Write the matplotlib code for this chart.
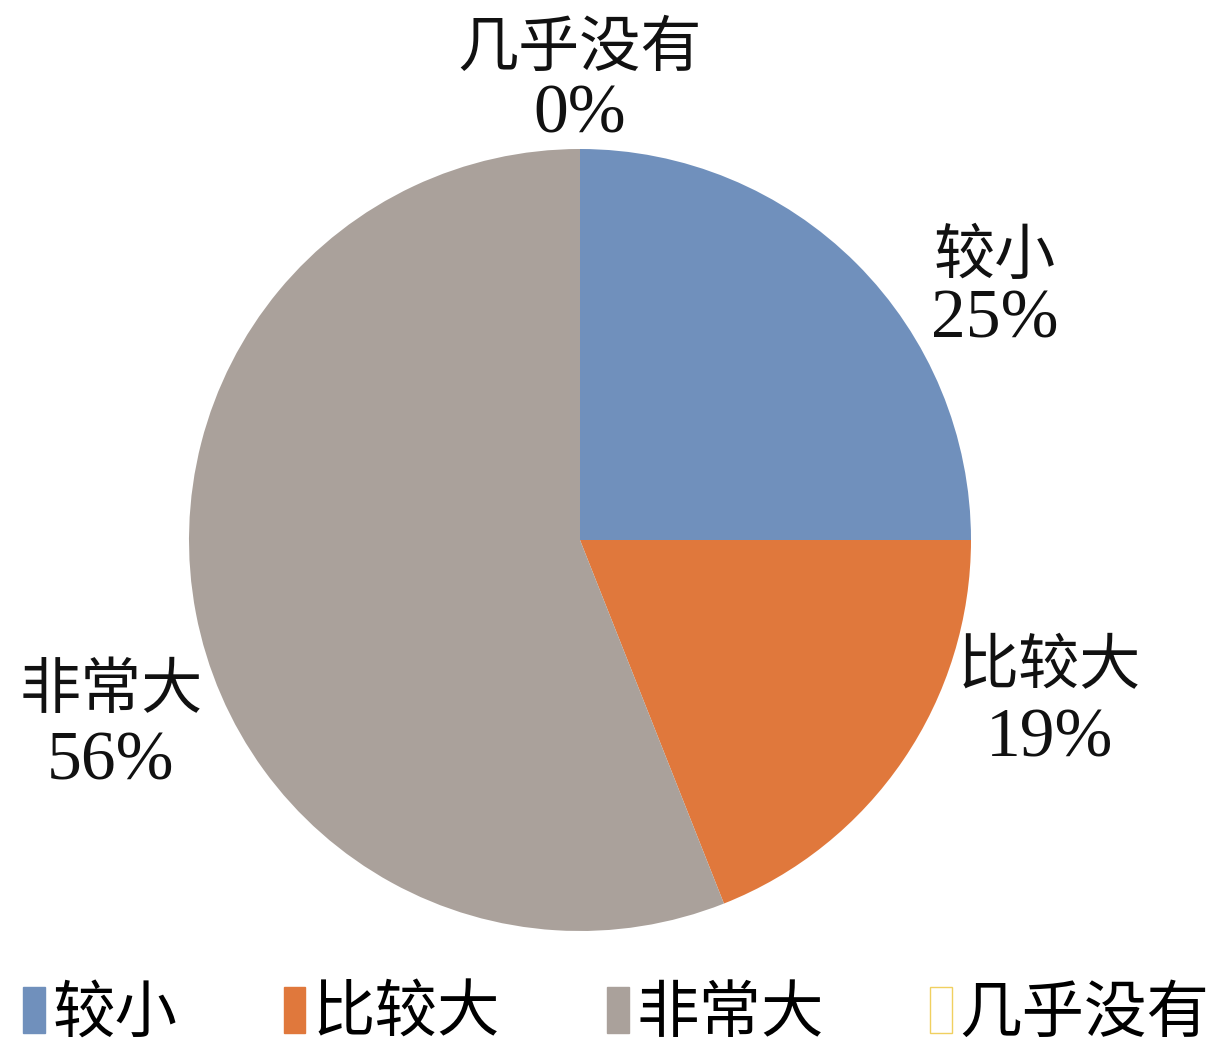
import matplotlib
matplotlib.use("Agg")
import matplotlib.pyplot as plt
from matplotlib.patches import Patch

plt.rcParams['font.family'] = ['Liberation Serif', 'Noto Sans CJK SC', 'DejaVu Sans']

categories = ['较小', '比较大', '非常大', '几乎没有']
values = [25, 19, 56, 0]
colors = ['#7090BC', '#E0783C', '#AAA19B', '#FFFFFF']
edge_colors = ['#7090BC', '#E0783C', '#AAA19B', '#F0D060']

W, H = 1232, 1058
fig = plt.figure(figsize=(W / 100, H / 100), dpi=100)
cx, cy, r = 580, 540, 391
ax = fig.add_axes([(cx - r) / W, 1 - (cy + r) / H, 2 * r / W, 2 * r / H])
ax.axis('off')

wedges, _ = ax.pie(values, colors=colors, startangle=90, counterclock=False,
                   radius=1.0, center=(0, 0), frame=False)
ax.set_xlim(-1, 1)
ax.set_ylim(-1, 1)
ax.set_aspect('auto')

# (x, y of category line, y of percent line) in pie-radius units
label_pos = [(1.06, 0.72, 0.56), (1.20, -0.33, -0.51), (-1.20, -0.39, -0.57), (0.0, 1.25, 1.085)]
for cat, v, (lx, ly1, ly2) in zip(categories, values, label_pos):
    ax.text(lx, ly1, cat, ha='center', va='center', fontsize=44,
            color='#111111', clip_on=False)
    ax.text(lx, ly2, f"{v}%", ha='center', va='center', fontsize=50,
            color='#111111', clip_on=False)

handles = [Patch(facecolor=c, edgecolor=e, linewidth=1) for c, e in zip(colors, edge_colors)]
fig.legend(handles, categories, loc='lower center', bbox_to_anchor=(0.5, -0.012),
           ncol=4, frameon=False, fontsize=45, handlelength=0.35, handleheight=0.75,
           handletextpad=0.12, columnspacing=1.7, borderaxespad=0.0)

fig.savefig('out.png', dpi=100, facecolor='white')
